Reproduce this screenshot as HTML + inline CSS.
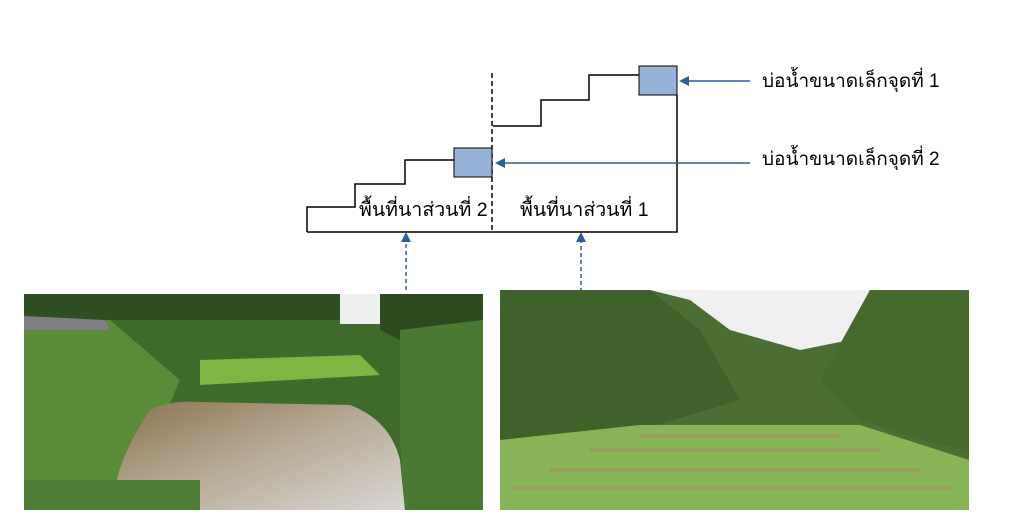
<!DOCTYPE html>
<html><head><meta charset="utf-8"><style>
html,body{margin:0;padding:0;background:#fff;width:1024px;height:530px;overflow:hidden}
svg{display:block}
text{font-family:"Liberation Sans","Noto Sans CJK SC",sans-serif}
</style></head><body>
<svg width="1024" height="530" viewBox="0 0 1024 530" xmlns="http://www.w3.org/2000/svg">
<defs>
<marker id="ah" markerWidth="10" markerHeight="10" refX="8" refY="5" orient="auto" markerUnits="userSpaceOnUse">
<path d="M0,0 L10,5 L0,10 z" fill="#2f5f98"/></marker>
<linearGradient id="pond" x1="0" y1="0" x2="1" y2="1"><stop offset="0" stop-color="#8a7352"/><stop offset="0.5" stop-color="#b8ab96"/><stop offset="1" stop-color="#d9d6d4"/></linearGradient>
</defs>
<g fill="none" stroke="#000" stroke-width="1.5">
<polyline points="307,232 307,207 355,207 355,184 405,184 405,160 454,160"/>
<polyline points="493,126 541,126 541,100 589,100 589,75 639,75"/>
<polyline points="677,95 677,232 307,232"/>
</g>
<line x1="492" y1="73" x2="492" y2="232" stroke="#000" stroke-width="1.5" stroke-dasharray="5,3"/>
<rect x="454" y="148" width="38" height="29" fill="#95b3d7" stroke="#000" stroke-width="1"/>
<rect x="639" y="66" width="38" height="29" fill="#95b3d7" stroke="#000" stroke-width="1"/>
<text x="359" y="216" font-size="19.5">พื้นที่นาส่วนที่ 2</text>
<text x="520" y="216" font-size="19.5">พื้นที่นาส่วนที่ 1</text>
<text x="762" y="87" font-size="19">บ่อน้ำขนาดเล็กจุดที่ 1</text>
<text x="762" y="165" font-size="19">บ่อน้ำขนาดเล็กจุดที่ 2</text>
<g stroke="#2f5f98" stroke-width="1.5">
<line x1="750" y1="81" x2="681" y2="81" marker-end="url(#ah)"/>
<line x1="750" y1="163" x2="497" y2="163" marker-end="url(#ah)"/>
<line x1="406" y1="290" x2="406" y2="234" stroke-dasharray="4,3" marker-end="url(#ah)"/>
<line x1="581" y1="292" x2="581" y2="234" stroke-dasharray="4,3" marker-end="url(#ah)"/>
</g>
<g>
<rect x="24" y="294" width="459" height="216" fill="#3f6a2c"/>
<path d="M24,294 H340 L350,320 H24 Z" fill="#2e4f22"/>
<rect x="340" y="294" width="40" height="30" fill="#eef0ee"/>
<path d="M380,294 H483 V360 L420,350 L380,330 Z" fill="#2b4a1f"/>
<path d="M200,360 L360,355 L380,375 L200,385 Z" fill="#7fb542"/>
<path d="M24,330 L110,320 L180,380 L150,450 L100,500 L24,500 Z" fill="#5a8a3a"/>
<path d="M150,410 Q170,400 200,402 L350,405 Q390,420 400,460 L405,510 H115 Q110,470 150,410 Z" fill="url(#pond)"/>
<path d="M400,330 L483,320 V510 H405 L400,440 Z" fill="#4a7a32"/>
<path d="M24,316 L105,320 L110,330 L24,330 Z" fill="#7d7f80"/>
<path d="M24,480 H200 V510 H24 Z" fill="#4e7d35"/>
</g>
<g>
<rect x="500" y="290" width="469" height="220" fill="#4a6e33"/>
<path d="M650,290 H870 L850,340 L800,350 L730,330 L690,300 Z" fill="#f0f0f0"/>
<path d="M500,290 H650 L700,330 L740,400 L640,430 L580,440 L500,440 Z" fill="#3e6229"/>
<path d="M870,290 H969 V450 L920,440 L860,420 L820,380 Z" fill="#446b2d"/>
<path d="M500,440 L640,425 L860,425 L969,460 V510 H500 Z" fill="#86b456"/>
<g stroke="#9d9461" stroke-width="4" opacity="0.7">
<line x1="640" y1="436" x2="840" y2="436"/>
<line x1="590" y1="450" x2="880" y2="450"/>
<line x1="550" y1="470" x2="920" y2="470"/>
<line x1="510" y1="488" x2="950" y2="488"/>
</g>
</g>
</svg>
</body></html>
